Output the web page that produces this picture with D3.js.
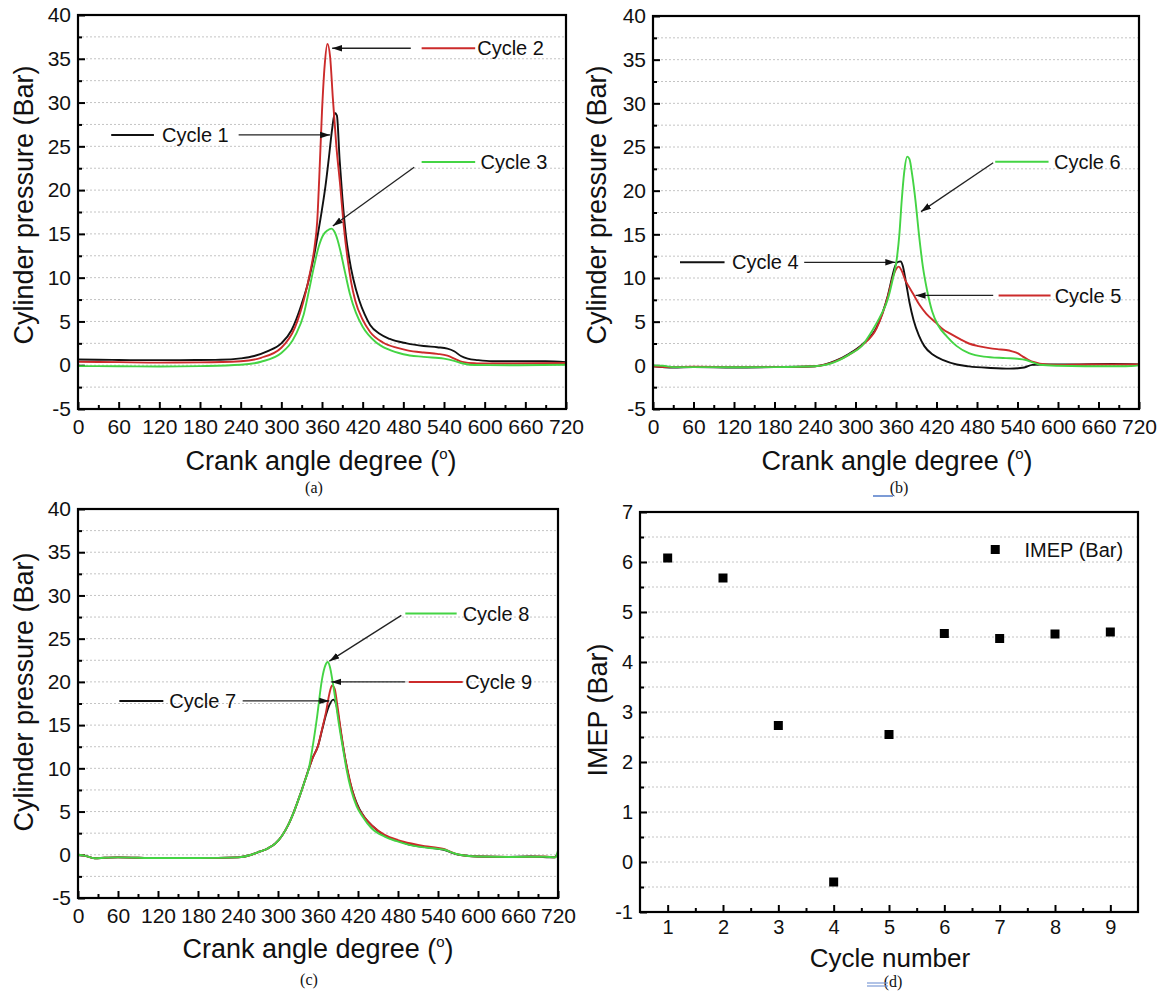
<!DOCTYPE html>
<html><head><meta charset="utf-8">
<script src="https://cdn.jsdelivr.net/npm/d3@7"></script>
<style>
body{margin:0;background:#fff;}
svg text{font-family:"Liberation Sans",Arial,sans-serif;fill:#111;}
</style></head><body>
<svg id="chart" width="1162" height="995"></svg>
<script>
// ---------- tick labels ----------
const crankTicks = [0,60,120,180,240,300,360,420,480,540,600,660,720];
const crankMinor = [30,90,150,210,270,330,390,450,510,570,630,690];
const pressureTicks = [-5,0,5,10,15,20,25,30,35,40];
const pressureMinor = [-2.5,2.5,7.5,12.5,17.5,22.5,27.5,32.5,37.5];
const pressureGrid = [-2.5,0,2.5,5,7.5,10,12.5,15,17.5,20,22.5,25,27.5,30,32.5,35,37.5];
const cycleNumbers = [1,2,3,4,5,6,7,8,9];
const cycleMinor = [1.5,2.5,3.5,4.5,5.5,6.5,7.5,8.5];
const imepTicks = [-1,0,1,2,3,4,5,6,7];
const imepMinor = [-0.5,0.5,1.5,2.5,3.5,4.5,5.5,6.5];
const imepGrid = [-0.5,0,0.5,1,1.5,2,2.5,3,3.5,4,4.5,5,5.5,6,6.5];

// ---------- series (crank angle, pressure) ----------
const cycle1 = [[0,0.65],[30,0.62],[60,0.6],[90,0.58],[120,0.58],[150,0.58],[180,0.6],[210,0.62],[240,0.78],[260,1.05],[280,1.6],[300,2.5],[315,4.0],[330,7.0],[340,9.6],[348,12.4],[354,15.0],[360,17.8],[365,20.4],[370,23.6],[375,27.0],[379,28.8],[382,28.5],[386,23.5],[390,19.2],[395,15.0],[400,12.3],[406,9.9],[415,7.4],[423,5.8],[431,4.6],[445,3.6],[460,3.0],[485,2.5],[510,2.2],[530,2.05],[545,1.9],[555,1.6],[565,1.05],[575,0.75],[590,0.58],[611,0.45],[650,0.45],[690,0.45],[720,0.35]];
const cycle2 = [[0,0.4],[60,0.35],[120,0.3],[180,0.32],[240,0.45],[270,0.85],[300,2.0],[320,4.3],[333,7.4],[343,10.8],[349,13.5],[353,16.5],[356,21.5],[360,29],[364,34.3],[368,36.7],[372,35.2],[376,30.5],[381,25.2],[387,20.4],[392,16.0],[398,12.0],[403,9.5],[409,7.4],[420,5.2],[431,3.8],[450,2.6],[470,2.0],[486,1.7],[510,1.45],[530,1.3],[545,1.1],[557,0.7],[567,0.38],[585,0.22],[620,0.2],[680,0.22],[720,0.25]];
const cycle3 = [[0,-0.1],[60,-0.12],[120,-0.15],[180,-0.1],[240,0.05],[270,0.4],[300,1.4],[322,3.6],[333,5.8],[341,8.6],[348,11.2],[355,13.5],[362,14.9],[368,15.4],[374,15.6],[378,15.3],[383,14.3],[387,13.1],[394,10.6],[401,8.2],[410,6.0],[420,4.4],[440,2.6],[458,1.8],[480,1.25],[510,0.95],[540,0.75],[555,0.5],[568,0.2],[585,0.02],[650,0],[720,0.05]];
const cycle4 = [[0,-0.1],[30,-0.25],[60,-0.2],[120,-0.25],[180,-0.2],[240,-0.1],[270,0.5],[290,1.3],[310,2.4],[331,4.3],[340,6.0],[348,8.0],[354,10.0],[358,11.2],[362,11.8],[367,11.9],[370,11.4],[375,9.4],[380,7.2],[386,5.2],[394,3.4],[402,2.2],[415,1.2],[430,0.6],[450,0.1],[468,-0.12],[500,-0.3],[529,-0.38],[550,-0.25],[562,0.05],[580,0.1],[620,0.1],[680,0.15],[720,0.1]];
const cycle5 = [[0,-0.1],[30,-0.2],[60,-0.15],[120,-0.2],[180,-0.2],[240,-0.1],[270,0.45],[290,1.2],[310,2.3],[331,4.2],[340,5.9],[348,7.9],[355,10.0],[360,11.0],[364,11.3],[368,10.9],[374,9.7],[380,8.9],[386,8.1],[395,6.9],[405,5.9],[419,4.9],[430,4.1],[441,3.6],[455,3.0],[468,2.5],[482,2.2],[496,2.0],[510,1.85],[523,1.75],[532,1.6],[540,1.4],[548,1.0],[556,0.64],[565,0.35],[573,0.2],[600,0.05],[650,0.1],[720,0.1]];
const cycle6 = [[0,0],[15,-0.05],[30,-0.2],[60,-0.2],[120,-0.22],[180,-0.2],[240,-0.1],[276,0.6],[290,1.2],[309,2.2],[325,4.0],[338,5.8],[347.6,7.5],[355,9.8],[361,12.1],[365,15],[368.5,18.9],[372,22],[376.7,23.9],[380,23.6],[384,21.8],[388.8,18.9],[394,15],[399.8,11.3],[406,8.6],[413.5,6.2],[423,4.5],[435.5,3.3],[450,2.2],[468,1.4],[490,1.0],[523,0.83],[540,0.75],[551,0.64],[562,0.35],[573,0.07],[600,-0.05],[640,-0.1],[700,-0.1],[720,0]];
const cycle7 = [[0,0],[10,-0.1],[25,-0.4],[40,-0.35],[60,-0.3],[120,-0.38],[180,-0.38],[240,-0.3],[260,0],[272,0.35],[285,0.75],[296,1.3],[306,2.2],[315,3.4],[324,5.0],[333,6.9],[340,8.5],[346,9.9],[352,11.2],[360,12.6],[366,14.4],[372,16.2],[377,17.3],[382.7,17.95],[387,17.5],[391,15.8],[396,13.3],[402,10.6],[408,8.4],[415,6.6],[422,5.3],[430,4.3],[442,3.3],[460,2.2],[480,1.6],[494,1.25],[520,0.9],[540,0.7],[550,0.55],[560,0.25],[571,0],[600,-0.2],[640,-0.25],[680,-0.2],[715,-0.3],[720,0.2]];
const cycle8 = [[0,0],[10,-0.1],[25,-0.4],[40,-0.35],[60,-0.3],[120,-0.38],[180,-0.38],[240,-0.3],[260,0],[272,0.35],[285,0.75],[296,1.3],[306,2.2],[315,3.4],[324,5.0],[333,6.9],[340,8.5],[346,9.9],[352,12.5],[358,15.6],[366,20.3],[371,21.9],[374.5,22.3],[378,21.7],[382,20],[386,18],[391,15.3],[397,12.5],[403,9.8],[410,7.4],[418,5.6],[427,4.4],[440,3.1],[460,2.1],[477,1.6],[494,1.2],[520,0.85],[540,0.68],[550,0.58],[560,0.28],[572,0],[600,-0.2],[650,-0.25],[700,-0.22],[716,-0.3],[720,0.5]];
const cycle9 = [[0,0],[10,-0.1],[25,-0.4],[40,-0.35],[60,-0.3],[120,-0.38],[180,-0.38],[240,-0.3],[260,0],[272,0.35],[285,0.75],[296,1.3],[306,2.2],[315,3.4],[324,5.0],[333,6.9],[340,8.5],[346,9.9],[352,11.2],[360,12.6],[366,14.5],[372,16.5],[377,18.6],[381,19.6],[385,19.2],[389,17.3],[394,14.5],[400,11.5],[406,9.2],[413,7.0],[420,5.5],[430,4.3],[442,3.3],[460,2.3],[480,1.7],[500,1.3],[520,1.0],[540,0.8],[550,0.65],[560,0.3],[572,0],[600,-0.2],[650,-0.25],[700,-0.2],[716,-0.3],[720,0.3]];

// ---------- IMEP ----------
const imepValues = [6.08,5.68,2.73,-0.40,2.55,4.57,4.47,4.56,4.60];

// ---------- styles ----------
const BLACK = "#111111", RED = "#cc2b2b", GREEN = "#44d444";

// annotation configs (data units)
const annotA = [
  {label:"Cycle 2", color:RED,   line:[[507,36.2],[586,36.2]], text:[589,36.2], arrow:[[491,36.2],[375,36.2]]},
  {label:"Cycle 1", color:BLACK, line:[[49,26.3],[112,26.3]],  text:[124,26.3], arrow:[[237,26.3],[372,26.3]]},
  {label:"Cycle 3", color:GREEN, line:[[507,23.2],[586,23.2]], text:[594,23.2], arrow:[[496,22.6],[376,15.9]]}
];
const annotB = [
  {label:"Cycle 6", color:GREEN, line:[[507,23.3],[586,23.3]], text:[594,23.3], arrow:[[504,23.2],[397,17.6]]},
  {label:"Cycle 4", color:BLACK, line:[[40,11.8],[106,11.8]],  text:[117,11.8], arrow:[[224,11.8],[359,11.8]]},
  {label:"Cycle 5", color:RED,   line:[[512,8.0],[589,8.0]],   text:[595,8.0],  arrow:[[504,8.0],[389,8.0]]}
];
const annotC = [
  {label:"Cycle 8", color:GREEN, line:[[491,27.9],[568,27.9]], text:[577,27.9], arrow:[[485,27.7],[377,22.4]]},
  {label:"Cycle 9", color:RED,   line:[[496,20],[577,20]],     text:[581,20],   arrow:[[491,20],[380,20]]},
  {label:"Cycle 7", color:BLACK, line:[[62,17.8],[128,17.8]],  text:[137,17.8], arrow:[[247,17.8],[377,17.8]]}
];

const svg = d3.select("#chart");
svg.append("defs").append("marker")
  .attr("id","ah").attr("markerUnits","userSpaceOnUse")
  .attr("markerWidth",11).attr("markerHeight",8).attr("refX",10).attr("refY",4)
  .attr("orient","auto")
  .append("path").attr("d","M0,0.8 L10,4 L0,7.2 Z").attr("fill","#111");

let clipId = 0;
function panel(cfg){
  const g = svg.append("g");
  const x = d3.scaleLinear().domain(cfg.xDomain).range([cfg.l, cfg.r]);
  const y = d3.scaleLinear().domain(cfg.yDomain).range([cfg.b, cfg.t]);
  g.append("g").selectAll("line").data(cfg.grid).join("line")
    .attr("x1",cfg.l).attr("x2",cfg.r).attr("y1",d=>y(d)).attr("y2",d=>y(d))
    .attr("stroke","#c4c4c4").attr("stroke-width",1).attr("stroke-dasharray","2,2");
  const fmt = d=>String(d);
  const xa = g.append("g").attr("transform",`translate(0,${cfg.b})`)
    .call(d3.axisBottom(x).tickValues(cfg.xTicks).tickSize(-7).tickPadding(cfg.xPad||10).tickFormat(fmt));
  const xm = g.append("g").attr("transform",`translate(0,${cfg.b})`)
    .call(d3.axisBottom(x).tickValues(cfg.xMinor).tickSize(-4).tickFormat(""));
  const ya = g.append("g").attr("transform",`translate(${cfg.l},0)`)
    .call(d3.axisLeft(y).tickValues(cfg.yTicks).tickSize(-7).tickPadding(7).tickFormat(fmt));
  const ym = g.append("g").attr("transform",`translate(${cfg.l},0)`)
    .call(d3.axisLeft(y).tickValues(cfg.yMinor).tickSize(-4).tickFormat(""));
  [xa,xm,ya,ym].forEach(a=>{
    a.select(".domain").remove();
    a.selectAll("line").attr("stroke","#000").attr("stroke-width",2);
    a.attr("font-size",cfg.tickFont||21).attr("font-family","Liberation Sans, Arial, sans-serif");
    a.selectAll("text").attr("fill","#111");
  });
  const cid = "clip"+(clipId++);
  g.append("clipPath").attr("id",cid).append("rect")
    .attr("x",cfg.l).attr("y",cfg.t).attr("width",cfg.r-cfg.l).attr("height",cfg.b-cfg.t);
  const plot = g.append("g").attr("clip-path",`url(#${cid})`);
  g.append("rect").attr("x",cfg.l).attr("y",cfg.t).attr("width",cfg.r-cfg.l).attr("height",cfg.b-cfg.t)
    .attr("fill","none").attr("stroke","#000").attr("stroke-width",2.2);
  const xt = g.append("text").attr("x",cfg.xt[0]).attr("y",cfg.xt[1]).attr("text-anchor","middle")
    .attr("font-size",cfg.xtFont||27);
  if(cfg.deg){
    xt.text("Crank angle degree (");
    xt.append("tspan").attr("font-size",15).attr("dy",-11).text("o");
    xt.append("tspan").attr("dy",11).text(")");
  } else xt.text(cfg.xTitle);
  g.append("text").attr("transform",`translate(${cfg.yt[0]},${cfg.yt[1]}) rotate(-90)`)
    .attr("text-anchor","middle").attr("dy","0.35em").attr("font-size",27).text(cfg.yTitle);
  g.append("text").attr("x",cfg.sub[0]).attr("y",cfg.sub[1]).attr("text-anchor","middle")
    .attr("font-size",16).style("font-family","Liberation Serif, Times New Roman, serif").text(cfg.subLabel);
  return {g, plot, x, y};
}

const lineGen = (x,y)=>d3.line().x(d=>x(d[0])).y(d=>y(d[1])).curve(d3.curveMonotoneX);

function drawCurves(p, series){
  series.forEach(s=>{
    p.plot.append("path").datum(s.data).attr("d",lineGen(p.x,p.y))
      .attr("fill","none").attr("stroke",s.color).attr("stroke-width",1.9)
      .attr("stroke-linejoin","round");
  });
}
function drawAnnot(p, ann){
  ann.forEach(a=>{
    p.g.append("line").attr("x1",p.x(a.line[0][0])).attr("y1",p.y(a.line[0][1]))
      .attr("x2",p.x(a.line[1][0])).attr("y2",p.y(a.line[1][1]))
      .attr("stroke",a.color).attr("stroke-width",2);
    p.g.append("text").attr("x",p.x(a.text[0])).attr("y",p.y(a.text[1])).attr("dy","0.36em")
      .attr("font-size",20).text(a.label);
    p.g.append("line").attr("x1",p.x(a.arrow[0][0])).attr("y1",p.y(a.arrow[0][1]))
      .attr("x2",p.x(a.arrow[1][0])).attr("y2",p.y(a.arrow[1][1]))
      .attr("stroke","#222").attr("stroke-width",1.3).attr("marker-end","url(#ah)");
  });
}

const pressureCfg = {xDomain:[0,720], yDomain:[-5,40], grid:pressureGrid,
  xTicks:crankTicks, xMinor:crankMinor, yTicks:pressureTicks, yMinor:pressureMinor,
  xTitle:"Crank angle degree (°)", yTitle:"Cylinder pressure (Bar)", deg:true};

const pA = panel(Object.assign({}, pressureCfg, {l:78,r:566,t:15,b:409, xt:[321,470], yt:[24,205], sub:[314,493], subLabel:"(a)"}));
drawCurves(pA, [{data:cycle1,color:BLACK},{data:cycle2,color:RED},{data:cycle3,color:GREEN}]);
drawAnnot(pA, annotA);

const pB = panel(Object.assign({}, pressureCfg, {l:653,r:1139,t:16,b:409, xt:[897,470], yt:[597,205], sub:[899,493], subLabel:"(b)"}));
drawCurves(pB, [{data:cycle4,color:BLACK},{data:cycle5,color:RED},{data:cycle6,color:GREEN}]);
drawAnnot(pB, annotB);

const pC = panel(Object.assign({}, pressureCfg, {l:78,r:558,t:509,b:898, xt:[318,958], yt:[24,692], sub:[309,985], subLabel:"(c)"}));
drawCurves(pC, [{data:cycle7,color:BLACK},{data:cycle9,color:RED},{data:cycle8,color:GREEN}]);
drawAnnot(pC, annotC);

const pD = panel({xDomain:[0.5,9.5], yDomain:[-1,7], grid:imepGrid,
  xTicks:cycleNumbers, xMinor:cycleMinor, yTicks:imepTicks, yMinor:imepMinor,
  xTitle:"Cycle number", yTitle:"IMEP (Bar)", deg:false, xPad:8, tickFont:20, xtFont:26,
  l:640,r:1138,t:512,b:912, xt:[890,967], yt:[598,710], sub:[893,987], subLabel:"(d)"});
pD.plot.selectAll("rect.pt").data(imepValues).join("rect").attr("class","pt")
  .attr("x",(d,i)=>pD.x(cycleNumbers[i])-4.5).attr("y",d=>pD.y(d)-4.5)
  .attr("width",9).attr("height",9).attr("fill","#000");
pD.g.append("rect").attr("x",pD.x(6.92)-4.5).attr("y",pD.y(6.25)-4.5).attr("width",9).attr("height",9).attr("fill","#000");
pD.g.append("text").attr("x",pD.x(7.45)).attr("y",pD.y(6.25)).attr("dy","0.36em").attr("font-size",20).text("IMEP (Bar)");

svg.append("line").attr("x1",873).attr("x2",893).attr("y1",496).attr("y2",496).attr("stroke","#7c9bd6").attr("stroke-width",2);
svg.append("line").attr("x1",867).attr("x2",888).attr("y1",983).attr("y2",983).attr("stroke","#7c9bd6").attr("stroke-width",1.2);
svg.append("line").attr("x1",867).attr("x2",888).attr("y1",986).attr("y2",986).attr("stroke","#7c9bd6").attr("stroke-width",1.2);
</script>
</body></html>
